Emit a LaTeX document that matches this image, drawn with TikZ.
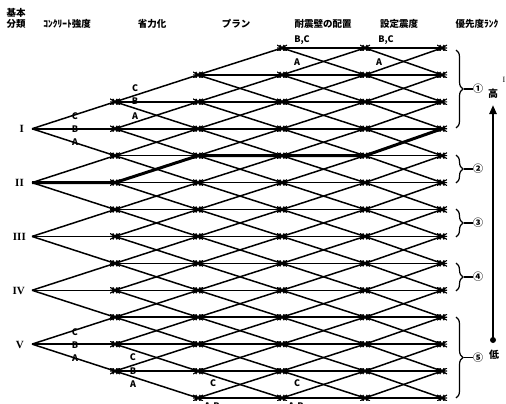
\documentclass[tikz,border=0pt]{standalone}
\usepackage{fontspec}
\newfontfamily\jp{Noto Sans CJK JP}
\newfontfamily\rmn{Liberation Serif}
\usetikzlibrary{decorations.pathreplacing,arrows.meta}
\begin{document}
\begin{tikzpicture}[x=1pt,y=-1pt,
  edge/.style={line width=1.5pt},
  hl/.style={line width=3pt,line join=round},
  starnode/.style={inner sep=0pt,minimum width=10pt,minimum height=6pt,
    path picture={\draw[line width=1.1pt]
      (path picture bounding box.north west) -- (path picture bounding box.south east)
      (path picture bounding box.south west) -- (path picture bounding box.north east)
      (path picture bounding box.west) -- (path picture bounding box.east)
      ([xshift=2.8pt]path picture bounding box.north west) -- ([xshift=-2.8pt]path picture bounding box.south east)
      ([xshift=2.8pt]path picture bounding box.south west) -- ([xshift=-2.8pt]path picture bounding box.north east);}},
  head/.style={font=\jp\bfseries\fontsize{9.5}{10}\selectfont,inner sep=0pt},
  lbl/.style={font=\jp\bfseries\fontsize{9}{9}\selectfont,inner sep=0pt},
  roman/.style={font=\rmn\bfseries\fontsize{11}{11}\selectfont,inner sep=0pt,anchor=east},
  rank/.style={font=\jp\bfseries\fontsize{10}{10}\selectfont,inner sep=0pt},
  bracestyle/.style={decorate,decoration={brace,amplitude=7pt},line width=1.2pt}
]
\useasboundingbox (0,0) rectangle (506,404);

% headers
\node[head] (h0a) at (16,13) {基本};
\node[head] (h0b) at (16,24) {分類};
\node[head] (h1) at (67,24) {ｺﾝｸﾘｰﾄ強度};
\node[head] (h2) at (152,24) {省力化};
\node[head] (h3) at (236,24) {プラン};
\node[head] (h4) at (323,24) {耐震壁の配置};
\node[head] (h5) at (399,24) {設定震度};
\node[head] (h6) at (477,24) {優先度ﾗﾝｸ};

% lattice coordinates
\foreach \c/\x/\lo/\hi in {1/115/2/12, 2/198/1/13, 3/282/0/13, 4/365/0/13, 5/442/0/13}{
  \foreach \k in {\lo,...,\hi}{
    \coordinate (n\c-\k) at (\x,{48+26.92*\k});
  }
}
\foreach \i/\k in {1/3,2/5,3/7,4/9,5/11}{
  \coordinate (r\i) at (32,{48+26.92*\k});
}

% roots -> column 1
\foreach \i/\k in {1/3,2/5,3/7,4/9,5/11}{
  \foreach \d in {-1,0,1}{
    \pgfmathtruncatemacro\t{\k+\d}
    \draw[edge] (r\i) -- (n1-\t);
  }
}
% column 1 -> column 2
\foreach \k in {2,...,12}{
  \foreach \d in {-1,0,1}{
    \pgfmathtruncatemacro\t{\k+\d}
    \draw[edge] (n1-\k) -- (n2-\t);
  }
}
% column 2 -> column 3
\foreach \k in {1,...,13}{
  \foreach \d in {-1,0,1}{
    \pgfmathtruncatemacro\t{\k+\d}
    \ifnum\t<14 \draw[edge] (n2-\k) -- (n3-\t);\fi
  }
}
% column 3 -> 4 -> 5
\foreach \c/\cn in {3/4,4/5}{
  \foreach \k in {0,...,13}{
    \foreach \d in {-1,0,1}{
      \pgfmathtruncatemacro\t{\k+\d}
      \ifnum\t>-1 \ifnum\t<14 \draw[edge] (n\c-\k) -- (n\cn-\t);\fi\fi
    }
  }
}

% highlighted path
\draw[hl] (r2) -- (n1-5) -- (n2-4) -- (n3-4) -- (n4-4) -- (n5-3);

% marks
\foreach \c/\lo/\hi in {1/2/12, 2/1/13, 3/0/13, 4/0/13, 5/0/13}{
  \foreach \k in {\lo,...,\hi}{
    \node[starnode] (m\c-\k) at (n\c-\k) {};
  }
}

% root labels
\node[roman] (lI) at (24,129) {I};
\node[roman] (lII) at (24,183) {II};
\node[roman] (lIII) at (26,237) {III};
\node[roman] (lIV) at (25,291) {IV};
\node[roman] (lV) at (24,345) {V};

% branch labels
\node[lbl] (a1c) at (75,116) {C};
\node[lbl] (a1b) at (75,129) {B};
\node[lbl] (a1a) at (75,142) {A};
\node[lbl] (a5c) at (75,332) {C};
\node[lbl] (a5b) at (75,345) {B};
\node[lbl] (a5a) at (75,358) {A};
\node[lbl] (b2c) at (135,88) {C};
\node[lbl] (b2b) at (135,101) {B};
\node[lbl] (b2a) at (135,116) {A};
\node[lbl] (b12c) at (133,357) {C};
\node[lbl] (b12b) at (133,371) {B};
\node[lbl] (b12a) at (133,384) {A};
\node[lbl] (c13c) at (213,383) {C};
\node[lbl] (c13ab) at (212,407) {A,B};
\node[lbl] (d13c) at (297,383) {C};
\node[lbl] (d13ab) at (296,407) {A,B};
\node[lbl] (d0bc) at (302,40) {B,C};
\node[lbl] (d0a) at (297,62) {A};
\node[lbl] (e0bc) at (386,40) {B,C};
\node[lbl] (e0a) at (379,62) {A};

% braces and ranks
\foreach \j/\top/\bot/\sym in {1/50/128/①, 2/155/183/②, 3/209/237/③, 4/263/291/④, 5/317/398/⑤}{
  \coordinate (bt\j) at (456,\top);
  \coordinate (bb\j) at (456,\bot);
  \coordinate (tip\j) at (464,{(\top+\bot)/2});
  \draw[bracestyle] (bt\j) -- (bb\j);
  \node[rank] (rk\j) at (478,{(\top+\bot)/2}) {\sym};
  \draw[line width=1.2pt] (tip\j) -- (rk\j.west);
}

% priority arrow
\coordinate (atop) at (493,105);
\node[circle,fill,inner sep=0pt,minimum size=6pt] (adot) at (493,340) {};
\draw[line width=2.5pt,-{Triangle[length=9pt,width=7pt]}] (adot.center) -- (atop);
\node[rank] (hiT) at (493,94) {高};
\node[rank] (loT) at (494,355) {低};
\node[font=\rmn\fontsize{8}{8}\selectfont,inner sep=0pt] (edgeI) at (504,80) {I};
\end{tikzpicture}
\end{document}
